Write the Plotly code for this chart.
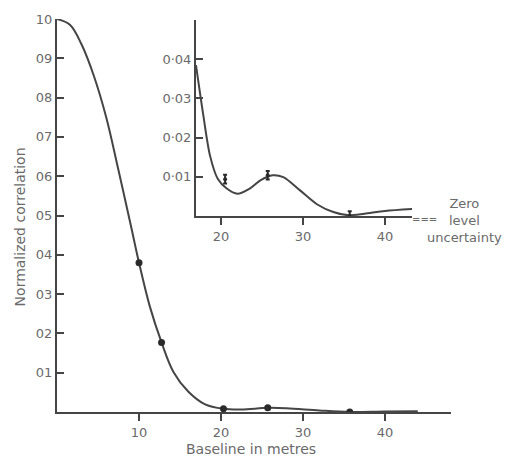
import plotly.graph_objects as go

# ---- data ----
main_curve_x = [0, 1.6, 3.0, 4.5, 6.0, 7.5, 9.0, 10.0, 11.3, 12.75, 14.2, 16.0, 18.0, 20.3, 22.5, 25.7, 28.0, 32.0, 35.7, 40.0, 44.0]
main_curve_y = [1.0, 0.985, 0.935, 0.855, 0.75, 0.615, 0.475, 0.38, 0.27, 0.177, 0.102, 0.052, 0.020, 0.008, 0.0062, 0.0105, 0.0095, 0.004, 0.0003, 0.0015, 0.002]
main_pts_x = [10.0, 12.75, 20.3, 25.7, 35.7]
main_pts_y = [0.38, 0.177, 0.008, 0.0105, 0.0]

inset_curve_x = [16.95, 17.8, 18.66, 19.6, 20.7, 22.0, 23.5, 24.8, 26.3, 27.6, 29.6, 31.7, 33.7, 35.6, 37.5, 40.0, 43.3]
inset_curve_y = [0.0385, 0.0263, 0.0154, 0.0095, 0.0070, 0.0057, 0.0070, 0.0091, 0.0104, 0.0099, 0.0066, 0.0030, 0.0010, 0.0002, 0.0006, 0.0013, 0.0018]
inset_pts_x = [20.5, 25.7, 35.7]
inset_pts_y = [0.0094, 0.0104, 0.0]
inset_err = [0.0011, 0.0011, 0.0012]

main_yticks = [0.1, 0.2, 0.3, 0.4, 0.5, 0.6, 0.7, 0.8, 0.9, 1.0]
main_ytick_text = ["01", "02", "03", "04", "05", "06", "07", "08", "09", "10"]
main_xticks = [10, 20, 30, 40]
inset_yticks = [0.01, 0.02, 0.03, 0.04]
inset_ytick_text = ["0·01", "0·02", "0·03", "0·04"]
inset_xticks = [20, 30, 40]

LINE = "#454545"
TXT = "#6a6a6a"
FONT = "DejaVu Sans"

# plot area in pixels
L, R, T, B = 57, 451, 16, 412
W, H = 509, 462

def px(xp):
    return (xp - L) / (R - L)

def py(yp):
    return (B - yp) / (B - T)

fig = go.Figure()

fig.add_trace(go.Scatter(x=main_curve_x, y=main_curve_y, mode="lines",
                         line=dict(color=LINE, width=2, shape="spline", smoothing=1.0),
                         xaxis="x", yaxis="y", hoverinfo="skip"))
fig.add_trace(go.Scatter(x=main_pts_x, y=main_pts_y, mode="markers",
                         marker=dict(color="#2a2a2a", size=7),
                         xaxis="x", yaxis="y"))

fig.add_trace(go.Scatter(x=inset_curve_x, y=inset_curve_y, mode="lines",
                         line=dict(color=LINE, width=2, shape="spline", smoothing=0.8),
                         xaxis="x2", yaxis="y2", hoverinfo="skip"))
fig.add_trace(go.Scatter(x=inset_pts_x, y=inset_pts_y, mode="markers",
                         marker=dict(color="#2a2a2a", size=4),
                         error_y=dict(type="data", array=inset_err, color="#2a2a2a", thickness=2, width=2),
                         xaxis="x2", yaxis="y2"))

axis_common = dict(showgrid=False, zeroline=False, showline=True, linecolor=LINE, linewidth=2,
                   ticks="outside", ticklen=7, tickwidth=1.5, tickcolor=LINE,
                   tickfont=dict(family=FONT, size=13, color=TXT))

fig.update_layout(
    width=W, height=H,
    margin=dict(l=L, r=W - R, t=T, b=H - B),
    paper_bgcolor="white", plot_bgcolor="white",
    showlegend=False,
    xaxis=dict(axis_common, range=[0, (R - L) / 8.2], tickvals=main_xticks,
               ticktext=[str(v) for v in main_xticks], domain=[0, 1], anchor="y"),
    yaxis=dict(axis_common, range=[0, 1.0], tickvals=main_yticks, ticktext=main_ytick_text,
               ticks="inside", domain=[0, 1], anchor="x", ticklabelstandoff=0),
    xaxis2=dict(axis_common, range=[(196 - L) / 8.2, (412 - L) / 8.2], tickvals=inset_xticks,
                ticktext=[str(v) for v in inset_xticks], domain=[px(196), px(412)], anchor="y2"),
    yaxis2=dict(axis_common, range=[0, 0.05], tickvals=inset_yticks, ticktext=inset_ytick_text,
                ticks="inside", domain=[py(214.5), py(17)], anchor="x2", ticklabelstandoff=0),
)

ann_font = dict(family=FONT, size=14, color=TXT)
fig.add_annotation(text="Normalized correlation", xref="paper", yref="paper",
                   x=px(20), y=py(226), textangle=-90, showarrow=False, font=ann_font,
                   xanchor="center", yanchor="middle")
fig.add_annotation(text="Baseline in metres", xref="paper", yref="paper",
                   x=px(251), y=py(449), showarrow=False, font=ann_font,
                   xanchor="center", yanchor="middle")
fig.add_annotation(text="===", xref="paper", yref="paper",
                   x=px(424), y=py(218), showarrow=False,
                   font=dict(family=FONT, size=10, color=TXT), xanchor="center", yanchor="middle")
fig.add_annotation(text="Zero<br>level<br>uncertainty", xref="paper", yref="paper",
                   x=px(464), y=py(219), showarrow=False, align="center",
                   font=dict(family=FONT, size=13, color=TXT), xanchor="center", yanchor="middle")

fig.write_html("out.html")
